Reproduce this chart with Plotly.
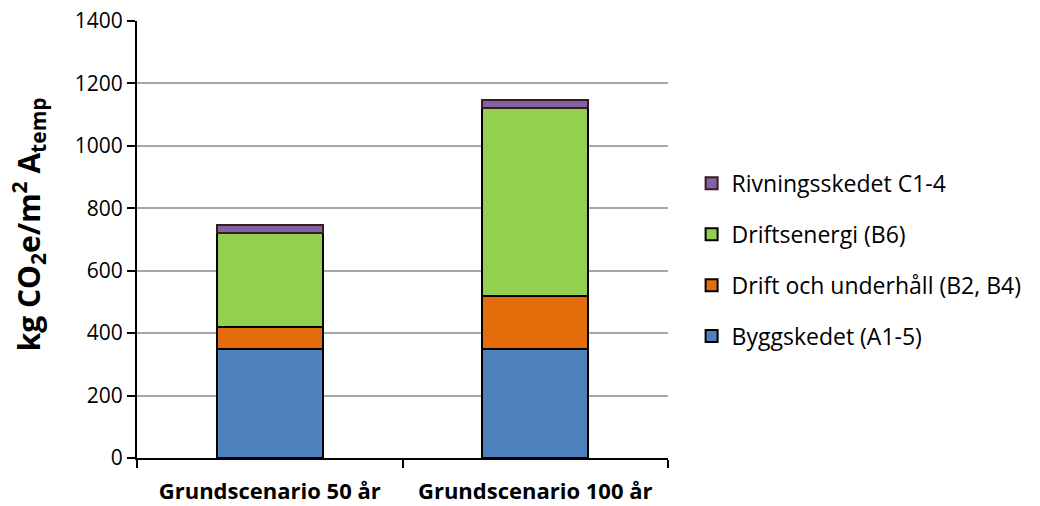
import plotly.graph_objects as go

# Scenarios on the x axis
scenarios = ["Grundscenario 50 år", "Grundscenario 100 år"]

# Life-cycle stages (kg CO2e per m² Atemp), stacked bottom to top
byggskedet = [350, 350]
drift_underhall = [70, 170]
driftsenergi = [302, 600]
rivningsskedet = [25, 28]

y_ticks = [0, 200, 400, 600, 800, 1000, 1200, 1400]

series = [
    ("Byggskedet (A1-5)", byggskedet, "#4F81BD", "#000000"),
    ("Drift och underhåll (B2, B4)", drift_underhall, "#E46C0A", "#000000"),
    ("Driftsenergi (B6)", driftsenergi, "#92D050", "#000000"),
    ("Rivningsskedet C1-4", rivningsskedet, "#8064A2", "#3b1a22"),
]

fig = go.Figure()
n = len(series)
for i, (name, vals, fill, edge) in enumerate(series):
    fig.add_trace(go.Bar(
        x=scenarios, y=vals, name=name,
        marker=dict(color=fill, line=dict(color=edge, width=2)),
        legendgroup=f"g{i}",
        legendrank=n - i,  # top stack segment listed first
    ))

font_family = "Open Sans"

fig.update_layout(
    barmode="stack",
    bargap=0.6,
    width=1040, height=506,
    margin=dict(l=137, r=372, t=21, b=48, pad=0),
    paper_bgcolor="white", plot_bgcolor="white",
    font=dict(family=font_family, size=21, color="#000000"),
    showlegend=True,
    legend=dict(
        traceorder="grouped",
        xref="container", yref="container",
        x=0.665, y=0.68, xanchor="left", yanchor="top",
        font=dict(size=23, color="#000000"),
        tracegroupgap=18,
        bgcolor="rgba(0,0,0,0)",
    ),
    xaxis=dict(
        automargin=False,
        showline=True, linecolor="#000000", linewidth=2,
        ticks="outside", ticklen=8, tickwidth=2, tickcolor="#000000",
        tickson="boundaries",
        ticklabelstandoff=13,
        tickfont=dict(size=22, family=font_family, weight="bold"),
        showgrid=False,
    ),
    yaxis=dict(
        automargin=False,
        range=[0, 1400],
        tickvals=y_ticks,
        showline=True, linecolor="#000000", linewidth=2,
        ticks="outside", ticklen=8, tickwidth=2, tickcolor="#000000",
        showgrid=True, gridcolor="#A6A6A6", gridwidth=2,
        zeroline=False,
        tickfont=dict(size=21),
    ),
    annotations=[dict(
        text="<b>kg CO<sub>2</sub>e/m<sup>2</sup> A<sub>temp</sub></b>",
        textangle=-90,
        xref="paper", yref="paper",
        x=-0.205, y=0.535, xanchor="center", yanchor="middle",
        showarrow=False,
        font=dict(size=30, color="#000000"),
    )],
)

fig.write_html("out.html")
